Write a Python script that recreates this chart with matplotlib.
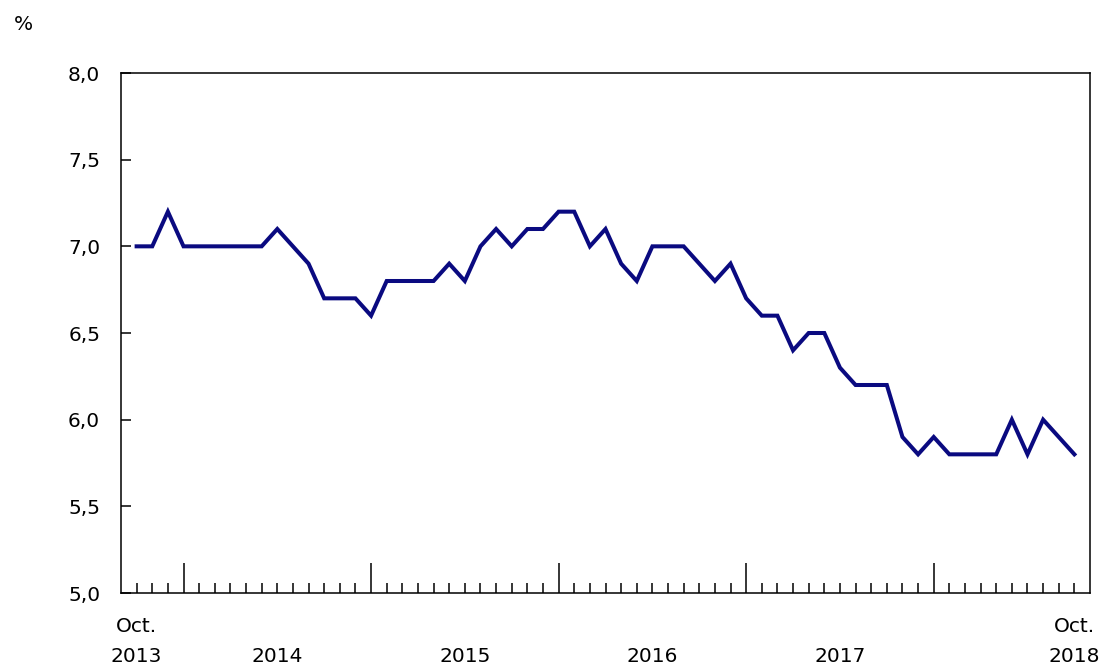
import matplotlib
matplotlib.use("Agg")
import matplotlib.pyplot as plt
from matplotlib.ticker import FixedLocator, FuncFormatter
import matplotlib.transforms as mtransforms

months = list(range(61))  # Oct 2013 .. Oct 2018
values = [7.0, 7.0, 7.2, 7.0, 7.0, 7.0, 7.0, 7.0, 7.0, 7.1,
          7.0, 6.9, 6.7, 6.7, 6.7, 6.6, 6.8, 6.8, 6.8, 6.8,
          6.9, 6.8, 7.0, 7.1, 7.0, 7.1, 7.1, 7.2, 7.2, 7.0,
          7.1, 6.9, 6.8, 7.0, 7.0, 7.0, 6.9, 6.8, 6.9, 6.7,
          6.6, 6.6, 6.4, 6.5, 6.5, 6.3, 6.2, 6.2, 6.2, 5.9,
          5.8, 5.9, 5.8, 5.8, 5.8, 5.8, 6.0, 5.8, 6.0, 5.9,
          5.8]
year_labels = ["2014", "2015", "2016", "2017"]
year_label_pos = [9, 21, 33, 45]
jan_pos = [3, 15, 27, 39, 51]
y_ticks = [5.0, 5.5, 6.0, 6.5, 7.0, 7.5, 8.0]

plt.rcParams['font.family'] = ['DejaVu Sans']
fig = plt.figure(figsize=(11.02, 6.65), dpi=100)
ax = fig.add_axes([121/1102, 1-593/665, (1090-121)/1102, (593-73)/665])

ax.plot(months, values, color='#0a0a80', lw=2.9, solid_joinstyle='miter')
ax.set_xlim(-1, 61)
ax.set_ylim(5.0, 8.0)

for s in ax.spines.values():
    s.set_linewidth(1.1)
    s.set_color('black')

fs = 14.5
ax.yaxis.set_major_locator(FixedLocator(y_ticks))
ax.yaxis.set_major_formatter(FuncFormatter(lambda v, p: f"{v:.1f}".replace('.', ',')))
ax.tick_params(axis='y', direction='in', length=7, width=1.1, pad=15, labelsize=fs, colors='black')

minor = [m for m in months if m not in jan_pos]
ax.xaxis.set_major_locator(FixedLocator(jan_pos))
ax.xaxis.set_minor_locator(FixedLocator(minor))
ax.tick_params(axis='x', which='major', direction='in', length=21.5, width=1.1, labelbottom=False)
ax.tick_params(axis='x', which='minor', direction='in', length=7.2, width=1.1, labelbottom=False)

trans = mtransforms.blended_transform_factory(ax.transData, fig.transFigure)
ax.text(0, 1-627/665, "Oct.", transform=trans, ha='center', va='center', fontsize=fs)
ax.text(0, 1-657/665, "2013", transform=trans, ha='center', va='center', fontsize=fs)
ax.text(60, 1-627/665, "Oct.", transform=trans, ha='center', va='center', fontsize=fs)
ax.text(60, 1-657/665, "2018", transform=trans, ha='center', va='center', fontsize=fs)
for lab, pos in zip(year_labels, year_label_pos):
    ax.text(pos, 1-657/665, lab, transform=trans, ha='center', va='center', fontsize=fs)

fig.text(23/1102, 1-25/665, "%", ha='center', va='center', fontsize=fs)

fig.savefig("out.png", dpi=100)
